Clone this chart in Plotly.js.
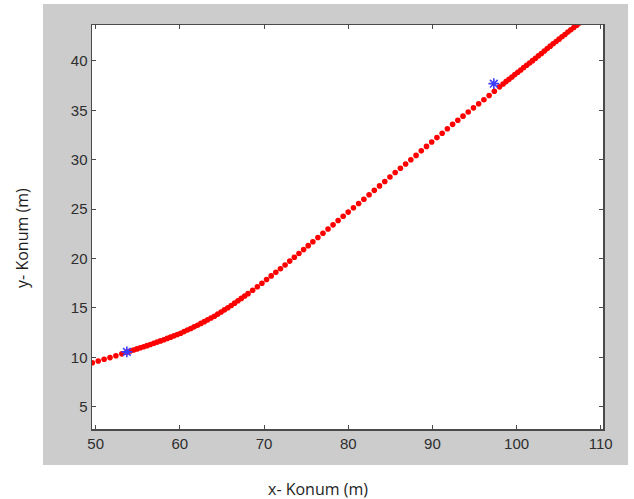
<!DOCTYPE html>
<html>
<head>
<meta charset="utf-8">
<script src="https://cdn.plot.ly/plotly-3.0.1.min.js"></script>
<style>html,body{margin:0;padding:0;background:#fff;}#chart{width:634px;height:499px;}</style>
</head>
<body>
<div id="chart"></div>
<script>
// Path points (red dots)
const pathX = [
  49.6, 50.3, 51.0, 51.7, 52.4, 53.1, 53.7,
  54.1, 54.5, 54.9, 55.3, 55.7, 56.1, 56.5, 56.9, 57.3, 57.7, 58.1, 58.5, 58.9, 59.3, 59.7,
  60.1, 60.5, 60.9, 61.3, 61.7, 62.1, 62.5, 62.9, 63.3, 63.7, 64.1, 64.5, 64.9, 65.3, 65.7,
  66.1, 66.5, 66.9, 67.3, 67.7, 68.1,
  68.65, 69.2, 69.75, 70.3, 70.85, 71.4, 71.95, 72.5, 73.05, 73.6, 74.15, 74.7, 75.25, 75.8,
  76.4, 77.0, 77.6, 78.2, 78.8, 79.4, 80.0, 80.62, 81.24, 81.86, 82.48, 83.1, 83.72, 84.34,
  84.96, 85.58, 86.2, 86.82, 87.44, 88.06, 88.68, 89.3, 89.92, 90.54, 91.16, 91.78, 92.4,
  93.02, 93.64, 94.26, 94.88, 95.5, 96.12, 96.74, 97.36, 97.98,
  98.4, 98.75, 99.1, 99.45, 99.8, 100.15, 100.5, 100.85, 101.2, 101.55, 101.9, 102.25,
  102.6, 102.95, 103.3, 103.65, 104.0, 104.35, 104.7, 105.05, 105.4, 105.75, 106.1,
  106.45, 106.8, 107.15, 107.5
];
const pathY = [
  9.45, 9.62, 9.80, 9.97, 10.16, 10.35, 10.52,
  10.63, 10.74, 10.85, 10.96, 11.07, 11.18, 11.30, 11.42, 11.54, 11.66, 11.78, 11.91, 12.04, 12.17, 12.30,
  12.44, 12.60, 12.76, 12.92, 13.08, 13.25, 13.43, 13.61, 13.79, 13.97, 14.15, 14.37, 14.59, 14.80, 15.02,
  15.24, 15.48, 15.72, 15.96, 16.20, 16.44,
  16.79, 17.14, 17.50, 17.87, 18.24, 18.60, 18.97, 19.35, 19.74, 20.12, 20.51, 20.90, 21.30, 21.69,
  22.12, 22.55, 22.99, 23.41, 23.85, 24.28, 24.70, 25.14, 25.57, 26.00, 26.45, 26.90, 27.35, 27.80,
  28.25, 28.70, 29.14, 29.57, 30.00, 30.44, 30.90, 31.35, 31.80, 32.24, 32.68, 33.14, 33.58,
  34.00, 34.41, 34.83, 35.25, 35.67, 36.08, 36.50, 36.93, 37.38,
  37.67, 37.91, 38.14, 38.38, 38.62, 38.85, 39.09, 39.33, 39.56, 39.80, 40.03, 40.27,
  40.52, 40.76, 41.01, 41.25, 41.50, 41.74, 41.97, 42.21, 42.45, 42.68, 42.92,
  43.15, 43.39, 43.62, 43.86
];
// Blue star markers
const starX = [53.7, 97.3];
const starY = [10.55, 37.7];

const xTicks = [50, 60, 70, 80, 90, 100, 110];
const yTicks = [5, 10, 15, 20, 25, 30, 35, 40];
const xTitle = 'x- Konum (m)';
const yTitle = 'y- Konum (m)';

const traces = [
  {
    x: pathX, y: pathY, type: 'scatter', mode: 'markers',
    marker: {color: '#ff0000', size: 5.6, line: {width: 0}},
    hoverinfo: 'x+y', showlegend: false
  },
  {
    x: starX, y: starY, type: 'scatter', mode: 'markers',
    marker: {symbol: 'asterisk-open', color: '#3b3bff', size: 9, line: {color: '#3b3bff', width: 1.6}},
    hoverinfo: 'x+y', showlegend: false
  }
];

const axisCommon = {
  showline: true, linecolor: '#4a4a4a', linewidth: 1.5, mirror: 'ticks',
  ticks: 'inside', ticklen: 4, tickwidth: 1, tickcolor: '#4a4a4a',
  showgrid: false, zeroline: false,
  tickfont: {family: 'Liberation Sans, Arial, sans-serif', size: 15, color: '#2e2e2e'}
};

const titleFont = {family: 'Open Sans, Noto Sans, sans-serif', size: 16, color: '#1e1e1e'};

const layout = {
  width: 634, height: 499,
  margin: {l: 92, r: 31, t: 25, b: 70, pad: 0},
  paper_bgcolor: '#ffffff', plot_bgcolor: '#ffffff',
  showlegend: false,
  xaxis: Object.assign({}, axisCommon, {
    range: [49.56, 110.27], tickvals: xTicks, ticktext: xTicks.map(String)
  }),
  yaxis: Object.assign({}, axisCommon, {
    range: [2.74, 43.64], tickvals: yTicks, ticktext: yTicks.map(String)
  }),
  annotations: [
    {text: xTitle, xref: 'paper', yref: 'paper', x: 0.442, y: -0.1485,
     xanchor: 'center', yanchor: 'middle', showarrow: false, font: titleFont},
    {text: yTitle, xref: 'paper', yref: 'paper', x: -0.137, y: 0.473, textangle: -90,
     xanchor: 'center', yanchor: 'middle', showarrow: false, font: titleFont}
  ],
  shapes: [
    {type: 'rect', xref: 'paper', yref: 'paper', layer: 'below',
     x0: -0.0959, x1: 1.049, y0: -0.089, y1: 1.052,
     fillcolor: '#cccccc', line: {width: 0}},
    {type: 'rect', xref: 'paper', yref: 'paper', layer: 'below',
     x0: 0, x1: 1, y0: 0, y1: 1,
     fillcolor: '#ffffff', line: {width: 0}}
  ]
};

Plotly.newPlot('chart', traces, layout, {displayModeBar: false, staticPlot: true});
</script>
</body>
</html>
